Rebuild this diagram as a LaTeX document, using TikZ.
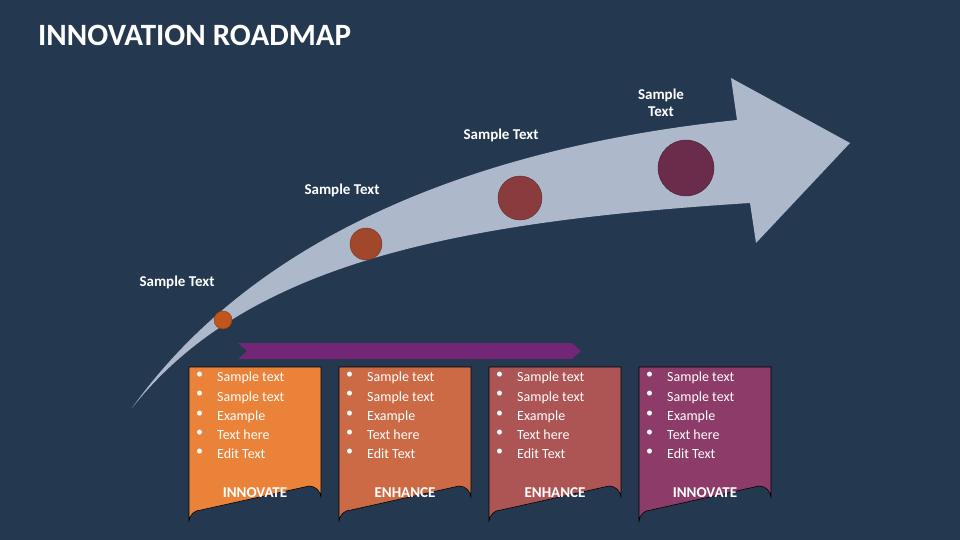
\documentclass[tikz,border=0pt]{standalone}
\usepackage{fontspec}
\setmainfont{Carlito}
\begin{document}
\begin{tikzpicture}[x=1pt,y=-1pt,
  lbl/.style={text=white,font=\bfseries\fontsize{15}{17}\selectfont,align=center},
  item/.style={text=white,font=\fontsize{14}{16.5}\selectfont,anchor=north west,align=left,inner sep=0pt},
  cardcap/.style={text=white,font=\bfseries\fontsize{15}{17}\selectfont}]
\definecolor{bg}{HTML}{243850}
\definecolor{arr}{HTML}{ADB9CA}
\fill[bg] (0,0) rectangle (960,540);
\useasboundingbox (0,0) rectangle (960,540);
\node[anchor=west,text=white,font=\bfseries\fontsize{31}{34}\selectfont,inner sep=0] (title) at (38,35) {INNOVATION ROADMAP};
% arrow
\fill[arr] (132,408) .. controls (245,250) and (450,150) .. (737,120) -- (731,78) -- (850,143) -- (756,243) -- (750,203) .. controls (450,222) and (245,265) .. cycle;
% circles
\definecolor{c1}{HTML}{C0561B}\definecolor{c2}{HTML}{A0472C}\definecolor{c3}{HTML}{8A3B3D}\definecolor{c4}{HTML}{6A2C4A}
\filldraw[fill=c1,draw=c1!70!black,line width=0.4pt] (223,320) circle (9);
\filldraw[fill=c2,draw=c2!70!black,line width=0.4pt] (366,244) circle (16);
\filldraw[fill=c3,draw=c3!70!black,line width=0.4pt] (520,198) circle (22);
\filldraw[fill=c4,draw=c4!70!black,line width=0.4pt] (686,168) circle (28);
\node[lbl] (l1) at (177,282) {Sample Text};
\node[lbl] (l2) at (342,190) {Sample Text};
\node[lbl] (l3) at (501,135) {Sample Text};
\node[lbl] (l4) at (661,103) {Sample\\Text};
% banner
\definecolor{ban}{HTML}{722675}
\fill[ban] (238,343) -- (572,343) -- (581,351) -- (572,359) -- (238,359) -- (247,351) -- cycle;
% cards
\foreach \x/\col/\t [count=\i] in {189/EB8239/INNOVATE,339/CC6A45/ENHANCE,489/AD5455/ENHANCE,639/8D3B68/INNOVATE}{
  \definecolor{cc}{HTML}{\col}
  \draw[fill=cc,line width=0.6pt] (\x,367) -- (\x+132,367) -- (\x+132,498) arc (0:-90:12) -- (\x+12,510) arc (-90:-180:12) -- cycle;
  \foreach \s [count=\j] in {Sample text,Sample text,Example,Text here,Edit Text}{
    \node[item] at (\x+7,{372+(\j-1)*19.2}) {\textbullet};
    \node[item] at (\x+28,{372+(\j-1)*19.2}) {\s};
  }
  \node[cardcap] (cap\i) at (\x+66,493) {\t};
}
\end{tikzpicture}
\end{document}
